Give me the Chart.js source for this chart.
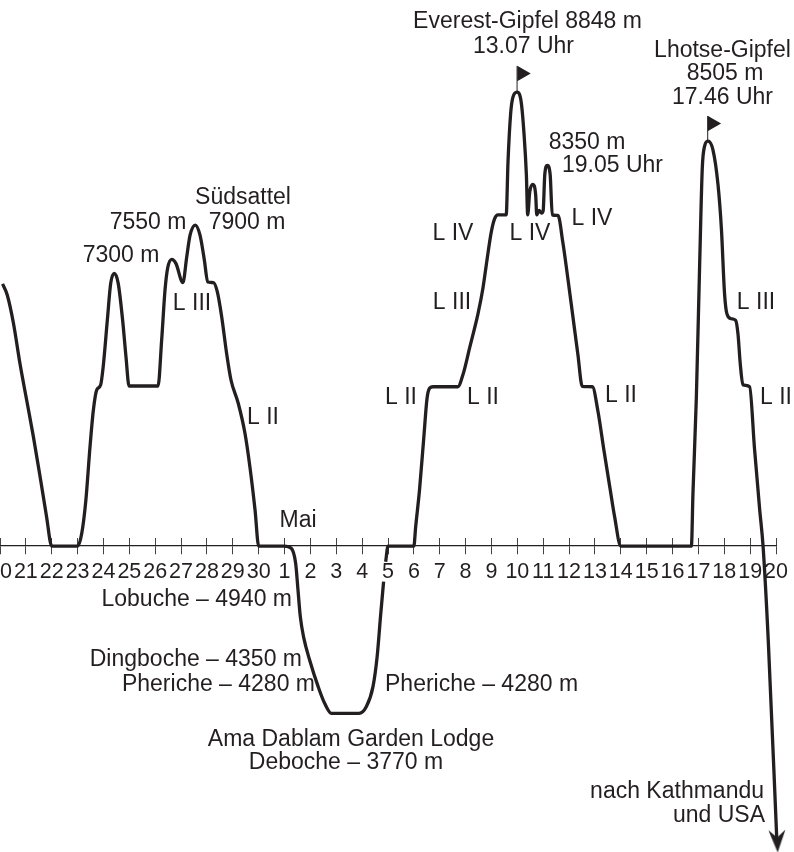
<!DOCTYPE html>
<html lang="de">
<head>
<meta charset="utf-8">
<title>Everest und Lhotse</title>
<script src="https://cdn.jsdelivr.net/npm/chart.js@4"></script>
<style>
  html, body { margin: 0; padding: 0; background: #fff; }
  #wrap { width: 794px; height: 852px; overflow: hidden; }
</style>
</head>
<body>
<div id="wrap"><canvas id="grafik" width="794" height="852"></canvas></div>
<script>
// Tage ab 20. April (0) bis 20. Mai (30)
var tickLabels = ["20","21","22","23","24","25","26","27","28","29","30","1","2","3","4","5","6","7","8","9","10","11","12","13","14","15","16","17","18","19","20"];

var routeDays = [
  0.10, 0.28, 0.52, 0.77, 1.03, 1.29, 1.55, 1.80, 2.00, 3.00, 3.16, 3.32, 3.48, 3.61, 3.74, 3.89, 3.99, 4.15, 4.28, 4.42, 4.57, 4.74, 4.87, 4.99,
  6.11, 6.25, 6.38, 6.48, 6.64, 6.80, 7.07, 7.22, 7.35, 7.55, 7.73, 7.90, 8.03, 8.25, 8.40, 8.57, 8.76, 8.93, 9.21, 9.47, 9.66, 9.86, 10.00, 10.99,
  11.26, 11.43, 11.52, 11.61, 11.74, 11.97, 12.30, 12.55, 12.81, 13.88, 14.16, 14.42, 14.58, 14.71, 14.83, 14.87, 14.91, 15.00, 16.00,
  16.07, 16.22, 16.38, 16.51, 16.61, 16.74, 17.70, 17.90, 18.16, 18.48, 18.67, 18.83, 18.99, 19.12, 19.25, 19.57, 19.64, 19.74, 19.83, 19.99,
  20.15, 20.26, 20.35, 20.40, 20.48, 20.60, 20.71, 20.75, 20.84, 20.94, 21.00, 21.06, 21.16, 21.27, 21.35, 21.57, 21.76, 21.96, 22.15, 22.34, 22.51, 22.90,
  23.12, 23.34, 23.59, 23.76, 24.00, 26.73, 26.79, 26.92, 27.05, 27.15, 27.24, 27.37, 27.56, 27.76, 27.89, 28.01, 28.10, 28.27, 28.44, 28.53, 28.62, 28.72, 28.98,
  29.17, 29.37, 29.50, 29.70, 30.03
];
var routeHeights = [
  7282, 7192, 6961, 6634, 6335, 6036, 5709, 5382, 5142, 5142, 5246, 5518, 5954, 6253, 6417, 6457, 6607, 6988, 7287, 7369, 7287, 6988, 6689, 6449,
  6449, 6825, 7233, 7410, 7483, 7450, 7293, 7505, 7682, 7763, 7682, 7478, 7298, 7293, 7219, 7015, 6716, 6498, 6308, 6063, 5791, 5437, 5142, 5142,
  5124, 5001, 4784, 4566, 4397, 4212, 3995, 3859, 3777, 3777, 3831, 3995, 4240, 4566, 4852, null, 5015, 5142, 5142,
  5300, 5604, 6018, 6349, 6432, 6443, 6443, 6543, 6764, 7040, 7247, 7482, 7703, 7813, 7846, 7846, 8283, 8669, 8807, 8848,
  8766, 8503, 8172, 7846, 8034, 8095, 8006, 7846, 7882, 7860, 7882, 8172, 8249, 8172, 7846, 7841, 7620, 7316, 7012, 6708, 6446, 6443,
  6239, 5935, 5604, 5383, 5142, 5142, 5576, 6349, 7454, 8227, 8407, 8448, 8379, 8089, 7730, 7205, 7040, 6998, 6985, 6874, 6626, 6460, 6443,
  5935, 5438, 5142, 4376, 2750
];

var baseHeight = 5142;
var everestPole = [{ x: 19.99, y: 8848 }, { x: 19.99, y: 9061 }];
var everestFlag = [{ x: 20.17, y: 9000 }];
var lhotsePole = [{ x: 27.36, y: 8448 }, { x: 27.36, y: 8653 }];
var lhotseFlag = [{ x: 27.53, y: 8592 }];
var arrowHead = [{ x: 30.05, y: 2735 }];

var ink = "#231f20";

var texte = [
  ["Everest-Gipfel 8848 m", 527.5, 22, "center"],
  ["13.07 Uhr", 523.5, 47, "center"],
  ["Lhotse-Gipfel", 722.5, 51, "center"],
  ["8505 m", 725, 74, "center"],
  ["17.46 Uhr", 722.5, 98, "center"],
  ["8350 m", 587, 143, "center"],
  ["19.05 Uhr", 612.5, 166, "center"],
  ["Südsattel", 243, 198, "center"],
  ["7550 m", 148, 223, "center"],
  ["7900 m", 247, 223, "center"],
  ["7300 m", 121, 256, "center"],
  ["L III", 192, 304, "center"],
  ["L II", 263, 418, "center"],
  ["Mai", 298, 521, "center"],
  ["L II", 401, 398, "center"],
  ["L II", 483, 398, "center"],
  ["L III", 452, 303, "center"],
  ["L IV", 453, 234, "center"],
  ["L IV", 530, 234, "center"],
  ["L IV", 592, 219, "center"],
  ["L II", 621, 396, "center"],
  ["L III", 756, 303, "center"],
  ["L II", 776, 398, "center"],
  ["Lobuche – 4940 m", 292, 600, "right"],
  ["Dingboche – 4350 m", 302, 660, "right"],
  ["Pheriche – 4280 m", 315, 685, "right"],
  ["Pheriche – 4280 m", 385, 685, "left"],
  ["Ama Dablam Garden Lodge", 351, 740, "center"],
  ["Deboche – 3770 m", 346, 763, "center"],
  ["nach Kathmandu", 764, 792, "right"],
  ["und USA", 765, 816, "right"]
];

var textPlugin = {
  id: "textPlugin",
  afterDraw: function (chart) {
    var c = chart.ctx;
    c.save();
    c.fillStyle = ink;
    c.font = '23px "Liberation Sans"';
    c.textBaseline = "middle";
    texte.forEach(function (t) {
      c.textAlign = t[3];
      c.fillText(t[0], t[1], t[2]);
    });
    c.restore();
  }
};

function noPadding(scale) {
  scale.paddingLeft = 0;
  scale.paddingRight = 0;
  scale.paddingTop = 0;
  scale.paddingBottom = 0;
}

// Pfeilspitze mit eingezogenem Ende, zeigt nach unten
function makeArrowImage() {
  var img = document.createElement("canvas");
  img.width = 18;
  img.height = 23;
  var c = img.getContext("2d");
  c.fillStyle = ink;
  c.beginPath();
  c.moveTo(0.5, 0.5);
  c.lineTo(9, 8);
  c.lineTo(17.5, 0.5);
  c.lineTo(9, 23);
  c.closePath();
  c.fill();
  return img;
}

var route = routeDays.map(function (d, i) {
  return { x: d, y: routeHeights[i] };
});

new Chart(document.getElementById("grafik").getContext("2d"), {
  type: "line",
  data: {
    datasets: [
      {
        data: route,
        borderColor: ink,
        borderWidth: 3.3,
        pointRadius: 0,
        cubicInterpolationMode: "monotone",
        clip: false
      },
      { data: everestPole, borderColor: ink, borderWidth: 1, pointRadius: 0 },
      { data: lhotsePole, borderColor: ink, borderWidth: 1, pointRadius: 0 },
      {
        data: everestFlag,
        showLine: false,
        pointStyle: "triangle",
        pointRotation: 90,
        pointRadius: 9,
        pointBorderWidth: 0,
        pointBackgroundColor: ink
      },
      {
        data: lhotseFlag,
        showLine: false,
        pointStyle: "triangle",
        pointRotation: 90,
        pointRadius: 9,
        pointBorderWidth: 0,
        pointBackgroundColor: ink
      },
      {
        data: arrowHead,
        showLine: false,
        pointStyle: makeArrowImage(),
        pointRotation: -2,
        pointRadius: 11,
        clip: false
      }
    ]
  },
  options: {
    responsive: false,
    animation: false,
    layout: { autoPadding: false, padding: { left: 0, right: 18, top: 0, bottom: 0 } },
    plugins: { legend: { display: false }, tooltip: { enabled: false } },
    scales: {
      x: {
        type: "linear",
        min: 0,
        max: 30,
        position: { y: baseHeight },
        afterFit: noPadding,
        border: { color: ink, width: 1.3 },
        grid: { drawOnChartArea: false, tickLength: 8, color: "#444", lineWidth: 1 },
        ticks: {
          stepSize: 1,
          autoSkip: false,
          maxRotation: 0,
          includeBounds: false,
          padding: 5,
          color: ink,
          font: { family: "Liberation Sans", size: 21.5 },
          callback: function (v) {
            return tickLabels[v];
          }
        }
      },
      xUp: {
        type: "linear",
        axis: "x",
        min: 0,
        max: 30,
        position: { y: baseHeight },
        afterFit: noPadding,
        border: { display: false },
        grid: { drawOnChartArea: false, tickLength: -8, color: "#444", lineWidth: 1 },
        ticks: { stepSize: 1, display: false, includeBounds: false }
      },
      y: {
        type: "linear",
        display: false,
        min: 2645,
        max: 9600
      }
    }
  },
  plugins: [textPlugin]
});
</script>
</body>
</html>
